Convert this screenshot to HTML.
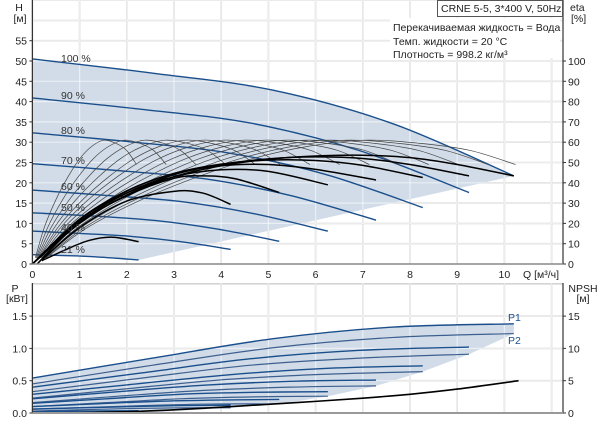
<!DOCTYPE html>
<html><head><meta charset="utf-8">
<style>
html,body{margin:0;padding:0;background:#fff;}
svg{display:block;font-family:"Liberation Sans","DejaVu Sans",sans-serif;}
</style></head>
<body>
<svg id="c" width="603" height="423" viewBox="0 0 603 423"></svg>
<script>
// ---- data ----
const qTicks = [0,1,2,3,4,5,6,7,8,9,10];
const hTicks = [0,5,10,15,20,25,30,35,40,45,50,55];
const etaTicks = [0,10,20,30,40,50,60,70,80,90,100];
const pTicks = [0,0.5,1.0,1.5];
const pTickLabels = ["0.0","0.5","1.0","1.5"];
const npshTicks = [0,5,10,15];
const speedLabels = ["100 %","90 %","80 %","70 %","60 %","50 %","40 %","21 %"];
const qEnd = [10.2,9.25,8.27,7.28,6.26,5.23,4.2,2.25];
const qFrac = [0,0.25,0.5,0.75,1];
const h100 = [50.5,47.0,42.8,34.5,21.7];
const h90 = [40.9,38.1,34.7,27.9,17.6];
const h80 = [32.3,30.1,27.4,22.1,13.9];
const h70 = [24.7,23.0,21.0,16.9,10.8];
const h60 = [18.2,16.9,15.4,12.4,8.1];
const h50 = [12.6,11.8,10.7,8.6,5.6];
const h40 = [8.1,7.5,6.8,5.5,3.6];
const h21 = [2.3,2.1,1.9,1.5,1.0];
const p1_100 = [0.54,0.85,1.15,1.33,1.38];
const p1_90 = [0.40,0.62,0.84,0.97,1.02];
const p1_80 = [0.29,0.44,0.59,0.69,0.73];
const p1_70 = [0.22,0.33,0.43,0.49,0.51];
const p1_60 = [0.15,0.22,0.29,0.32,0.33];
const p1_50 = [0.10,0.14,0.18,0.20,0.21];
const p1_40 = [0.06,0.08,0.10,0.115,0.12];
const p1_21 = [0.02,0.025,0.03,0.033,0.035];
const p2_100 = [0.45,0.74,1.01,1.17,1.23];
const p2_90 = [0.33,0.54,0.74,0.85,0.91];
const p2_80 = [0.23,0.38,0.52,0.60,0.64];
const p2_70 = [0.16,0.26,0.35,0.40,0.42];
const p2_60 = [0.10,0.16,0.22,0.25,0.26];
const p2_50 = [0.06,0.09,0.12,0.14,0.14];
const p2_40 = [0.03,0.05,0.07,0.08,0.08];
const p2_21 = [0.005,0.008,0.01,0.012,0.012];
// total efficiency curves (eta %) per speed, Q points
const etaQ100 = [0,1,2,3,4,5,6,7,8,9,10.2];
const eta100 = [0,20,34,43,48.4,51.6,53.2,53.6,52.4,49,43.4];
const etaQ90 = [0,1,2,3,4,5,6,7,8,9.25];
const eta90 = [0,21,35,44,49,51.8,52.8,52,49,43.4];
const etaQ80 = [0,1,2,3,4,5,6,7,8.27];
const eta80 = [0,22,36,44.6,49.2,51.2,51,48.6,42.6];
const etaQ70 = [0,1,2,3,4,5,6,7.28];
const eta70 = [0,22,36,44.6,48.4,49,46.6,41.4];
const etaQ60 = [0,1,2,3,4,5,6.26];
const eta60 = [0,22,35,43,46.4,45.6,39];
const etaQ50 = [0.1,1,2,3,3.6,4.3,5.23];
const eta50 = [0,20.6,33.6,42.2,43.4,42,35.2];
const etaQ40 = [0.2,1,2,3,3.6,4.2];
const eta40 = [2,18,31,35.8,35,29.4];
const etaQ21 = [0.2,0.7,1.2,1.7,2.25];
const eta21 = [1.6,7,11.6,13.2,11];
// hydraulic efficiency family
const thinSpeeds = [0.21,0.27,0.33,0.39,0.45,0.5,0.56,0.62,0.68,0.74,0.8,0.86,0.92,0.975];
const thinBaseQ = [0.3,1.2,2.4,3.6,4.8,6,7.2,8.4,9.5,10.5];
const thinBaseEta = [3,18,32,43,52,58,61,59.5,56,49];
const npshQ = [0,1,2,3,4,5,6,7,8,9,10.3];
const npshVals = [0,0.05,0.2,0.5,0.9,1.35,1.8,2.3,2.9,3.7,5.0];

// ---- scales ----
const X0=32.4, XS=47.2;
const xQ = q => X0 + q*XS;
const yH = h => 264 - h*4.06;
const yEta = e => yH(e/2);
const yP = p => 413 - p*64.6;
const yN = n => yP(n/10);

const svg = document.getElementById('c');
const NS='http://www.w3.org/2000/svg';
function mk(tag, attrs, parent){
  const e=document.createElementNS(NS,tag);
  for(const k in attrs) e.setAttribute(k,attrs[k]);
  (parent||svg).appendChild(e); return e;
}
function smooth(pts){
  let d='M'+pts[0][0].toFixed(2)+','+pts[0][1].toFixed(2);
  for(let i=0;i<pts.length-1;i++){
    const p0=pts[i-1]||pts[i], p1=pts[i], p2=pts[i+1], p3=pts[i+2]||p2;
    const c1=[p1[0]+(p2[0]-p0[0])/6, p1[1]+(p2[1]-p0[1])/6];
    const c2=[p2[0]-(p3[0]-p1[0])/6, p2[1]-(p3[1]-p1[1])/6];
    d+='C'+c1[0].toFixed(2)+','+c1[1].toFixed(2)+' '+c2[0].toFixed(2)+','+c2[1].toFixed(2)+' '+p2[0].toFixed(2)+','+p2[1].toFixed(2);
  }
  return d;
}
function txt(x,y,s,opt,name){
  const t=mk('text',Object.assign({x:x,y:y,'font-size':10.5,fill:'#222'},opt||{}));
  t.textContent=s;
  
  
  return t;
}
const hSets=[h100,h90,h80,h70,h60,h50,h40,h21];
const p1Sets=[p1_100,p1_90,p1_80,p1_70,p1_60,p1_50,p1_40,p1_21];
const p2Sets=[p2_100,p2_90,p2_80,p2_70,p2_60,p2_50,p2_40,p2_21];
const etaQs=[etaQ100,etaQ90,etaQ80,etaQ70,etaQ60,etaQ50,etaQ40,etaQ21];
const etaVs=[eta100,eta90,eta80,eta70,eta60,eta50,eta40,eta21];
function ptsFor(i, arr, yf){ return qFrac.map((f,j)=>[xQ(f*qEnd[i]), yf(arr[j])]); }

// ---- top chart grid ----
const gTop=mk('g',{});


for(let q=0;q<=11;q++){
  const l=mk('line',{x1:xQ(q),x2:xQ(q),y1:0,y2:264,stroke:'#d4d4d4','stroke-width':1.6},gTop);
   
}
for(let h=5;h<=65;h+=5){
  const l=mk('line',{x1:X0,x2:563,y1:yH(h),y2:yH(h),stroke:'#d4d4d4','stroke-width':1.6},gTop);
   
}
// shaded area
{
  let pts=ptsFor(0,h100,yH);
  let d=smooth(pts);
  d+='L'+xQ(qEnd[7])+','+yH(h21[4]);
  const r=ptsFor(7,h21,yH).reverse();
  d+=smooth(r).replace(/^M/,'L');
  d+='Z';
  const a=mk('path',{d:d,fill:'#d1dce8',stroke:'none'},gTop);
   
}
// white gridlines inside area are lighter: redraw grid over area lightly
for(let q=1;q<=11;q++){ const l=mk('line',{x1:xQ(q),x2:xQ(q),y1:0,y2:264,stroke:'#fff','stroke-opacity':0.55,'stroke-width':1.2},gTop);  }
for(let h=5;h<=65;h+=5){ const l=mk('line',{x1:X0,x2:563,y1:yH(h),y2:yH(h),stroke:'#fff','stroke-opacity':0.55,'stroke-width':1.2},gTop);  }
// speed curves
hSets.forEach((arr,i)=>{
  const p=mk('path',{d:smooth(ptsFor(i,arr,yH)),fill:'none',stroke:'#1b4f8c','stroke-width':1.4},gTop);
  
  
});
// thin efficiency family
thinSpeeds.forEach(n=>{
  const pts=thinBaseQ.map((q,j)=>[xQ(q*n), yEta(thinBaseEta[j])]);
  const p=mk('path',{d:smooth(pts),fill:'none',stroke:'#444','stroke-width':0.7},gTop);
  
  
});
// thick efficiency curves
etaQs.forEach((qs,i)=>{
  const pts=qs.map((q,j)=>[xQ(q), yEta(etaVs[i][j])]);
  const p=mk('path',{d:smooth(pts),fill:'none',stroke:'#000','stroke-width':1.5},gTop);
  
  
});
// speed labels
const labY=[58,95,130,160,186,207,227,249];
speedLabels.forEach((s,i)=>txt(61,labY[i]+4,s,{'font-size':10.5,fill:'#333'},'speed-label'));
// axes
{
  const a=mk('line',{x1:X0,x2:X0,y1:0,y2:264,stroke:'#333','stroke-width':1.2});  
  const b=mk('line',{x1:563,x2:563,y1:0,y2:264,stroke:'#333','stroke-width':1.2});  
  const c=mk('line',{x1:X0,x2:563,y1:264,y2:264,stroke:'#888','stroke-width':1.5});  
}
hTicks.forEach(h=>{ txt(27,yH(h)+4,String(h),{'text-anchor':'end'},'h-tick-label'); const t=mk('line',{x1:X0-3,x2:X0,y1:yH(h),y2:yH(h),stroke:'#333'});  });
etaTicks.forEach(e=>{ txt(568,yEta(e)+4,String(e),{},'eta-tick-label'); const t=mk('line',{x1:563,x2:566,y1:yEta(e),y2:yEta(e),stroke:'#333'});  });
qTicks.forEach(q=>txt(xQ(q),278,String(q),{'text-anchor':'middle'},'q-tick-label'));
txt(523,278,'Q [м³/ч]',{},'q-axis-title');
txt(19,11,'H',{'text-anchor':'middle'},'h-axis-title');
txt(20,22,'[м]',{'text-anchor':'middle'},'h-axis-unit');
txt(570,11,'eta',{},'eta-axis-title');
txt(571,22,'[%]',{},'eta-axis-unit');
// info box
{
  const r=mk('rect',{x:437.5,y:0.5,width:125,height:16,fill:'#fff',stroke:'#555','stroke-width':1});
   
  txt(441,12,'CRNE 5-5, 3*400 V, 50Hz',{},'pump-title');
  const w=mk('rect',{x:390,y:18,width:170,height:40,fill:'#fff'});
   
  txt(393,31,'Перекачиваемая жидкость = Вода',{},'fluid-info');
  txt(393,45,'Темп. жидкости = 20 °C',{},'temp-info');
  txt(393,58,'Плотность = 998.2 кг/м³',{},'density-info');
}

// ---- bottom chart ----
const gBot=mk('g',{});


for(let q=0;q<=11;q++){ const l=mk('line',{x1:xQ(q),x2:xQ(q),y1:283,y2:413,stroke:'#d4d4d4','stroke-width':1.6},gBot);  }
[0.5,1.0,1.5,2.0].forEach(p=>{ const l=mk('line',{x1:X0,x2:563,y1:yP(p),y2:yP(p),stroke:'#d4d4d4','stroke-width':1.6},gBot);  });
{
  let d=smooth(ptsFor(0,p1_100,yP));
  for(let i=0;i<7;i++){ d+='L'+xQ(qEnd[i])+','+yP(p2Sets[i][4]); }
  d+='L'+xQ(qEnd[7])+','+yP(0)+'L'+xQ(0)+','+yP(0)+'Z';
  const a=mk('path',{d:d,fill:'#d1dce8',stroke:'none'},gBot);
   
}
for(let q=1;q<=11;q++){ const l=mk('line',{x1:xQ(q),x2:xQ(q),y1:283,y2:413,stroke:'#fff','stroke-opacity':0.55,'stroke-width':1.2},gBot);  }
[0.5,1.0,1.5].forEach(p=>{ const l=mk('line',{x1:X0,x2:563,y1:yP(p),y2:yP(p),stroke:'#fff','stroke-opacity':0.55,'stroke-width':1.2},gBot);  });
p2Sets.forEach((arr,i)=>{ const p=mk('path',{d:smooth(ptsFor(i,arr,yP)),fill:'none',stroke:'#3d5f8f','stroke-width':1.2},gBot);  });
p1Sets.forEach((arr,i)=>{ const p=mk('path',{d:smooth(ptsFor(i,arr,yP)),fill:'none',stroke:'#1b4f8c','stroke-width':1.4},gBot);  });
{
  const pts=npshQ.map((q,j)=>[xQ(q),yN(npshVals[j])]);
  const p=mk('path',{d:smooth(pts),fill:'none',stroke:'#000','stroke-width':1.6},gBot);
   
}
{
  const a=mk('line',{x1:X0,x2:X0,y1:283,y2:413,stroke:'#333','stroke-width':1.2});  
  const b=mk('line',{x1:563,x2:563,y1:283,y2:413,stroke:'#333','stroke-width':1.2});  
  const c=mk('line',{x1:X0,x2:563,y1:413,y2:413,stroke:'#999','stroke-width':2});  
}
pTicks.forEach((p,i)=>{ txt(27,yP(p)+4,pTickLabels[i],{'text-anchor':'end'},'p-tick-label'); const t=mk('line',{x1:X0-3,x2:X0,y1:yP(p),y2:yP(p),stroke:'#333'});  });
npshTicks.forEach(n=>{ txt(568,yN(n)+4,String(n),{},'npsh-tick-label'); const t=mk('line',{x1:563,x2:566,y1:yN(n),y2:yN(n),stroke:'#333'});  });
txt(15,292,'P',{'text-anchor':'middle'},'p-axis-title');
txt(17,302,'[кВт]',{'text-anchor':'middle'},'p-axis-unit');
txt(583,292,'NPSH',{'text-anchor':'middle'},'npsh-axis-title');
txt(583,302,'[м]',{'text-anchor':'middle'},'npsh-axis-unit');
txt(508,321,'P1',{fill:'#1b4f8c'},'p1-label');
txt(508,344,'P2',{fill:'#1b4f8c'},'p2-label');
</script>
</body></html>
